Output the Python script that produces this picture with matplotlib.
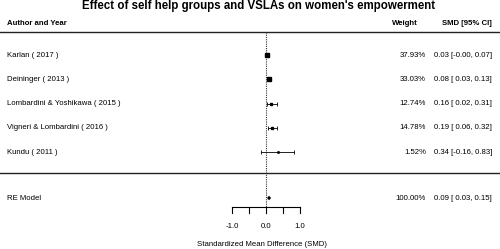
import matplotlib.pyplot as plt
from matplotlib.transforms import blended_transform_factory
import numpy as np

plt.rcParams['font.family'] = ['Liberation Sans', 'DejaVu Sans']

# data
studies = ['Karlan ( 2017 )', 'Deininger ( 2013 )', 'Lombardini & Yoshikawa ( 2015 )',
           'Vigneri & Lombardini ( 2016 )', 'Kundu ( 2011 )']
smd = [0.03, 0.08, 0.16, 0.19, 0.34]
ci_low = [-0.00, 0.03, 0.02, 0.06, -0.16]
ci_high = [0.07, 0.13, 0.31, 0.32, 0.83]
weights = [37.93, 33.03, 12.74, 14.78, 1.52]
re_est, re_low, re_high = 0.09, 0.03, 0.15
ticks = [-1.0, -0.5, 0.0, 0.5, 1.0]
tick_labels = ['-1.0', '', '0.0', '', '1.0']

W, H = 500, 249
fig = plt.figure(figsize=(W / 100, H / 100), dpi=100)
ax = fig.add_axes([0, 0, 1, 1])
ax.axis('off')

# x in SMD units: zero sits at pixel 266, one unit = 34 px; y in pixels from top
x0, unit = 266, 34.0
ax.set_xlim(-x0 / unit, (W - x0) / unit)
ax.set_ylim(H, 0)
tr = blended_transform_factory(ax.transAxes, ax.transData)

row_y = 55 + 24.3 * np.arange(len(studies))
re_y = 198
axis_y = 207

fs = 5.6
ax.text(0.518, 6, "Effect of self help groups and VSLAs on women's empowerment",
        transform=tr, ha='center', va='center', fontsize=8.3, fontweight='bold')
ax.text(7 / W, 23, 'Author and Year', transform=tr, ha='left', va='center',
        fontsize=fs, fontweight='bold')
ax.text(418 / W, 23, 'Weight', transform=tr, ha='right', va='center',
        fontsize=fs, fontweight='bold')
ax.text(492 / W, 23, 'SMD [95% CI]', transform=tr, ha='right', va='center',
        fontsize=fs, fontweight='bold')

ax.axhline(32, color='#222222', lw=1.0)
ax.axhline(173, color='#222222', lw=1.0)
ax.plot([0, 0], [32, axis_y], color='#333333', lw=0.8, ls=(0, (1, 1)))


def fmt(v):
    s = f'{v:.2f}'
    return s if s.startswith('-') else ' ' + s


wcol, scol = 426 / W, 492 / W
wmax = max(weights)
for i, name in enumerate(studies):
    y = row_y[i]
    ax.text(7 / W, y, name, transform=tr, ha='left', va='center', fontsize=fs)
    ax.errorbar(smd[i], y, xerr=[[smd[i] - ci_low[i]], [ci_high[i] - smd[i]]],
                fmt='none', ecolor='black', elinewidth=0.6, capsize=1.3, capthick=0.6)
    ms = 0.72 * (0.6 + 3.8 * np.sqrt(weights[i] / wmax))
    ax.plot(smd[i], y, marker='s', color='black', ms=ms, ls='none')
    ax.text(wcol, y, f'{weights[i]:.2f}%', transform=tr, ha='right', va='center', fontsize=fs)
    ax.text(scol, y, f'{smd[i]:.2f} [{fmt(ci_low[i])}, {ci_high[i]:.2f}]'.replace('[ -', '[-'),
            transform=tr, ha='right', va='center', fontsize=fs)

# summary diamond
ax.text(7 / W, re_y, 'RE Model', transform=tr, ha='left', va='center', fontsize=fs)
ax.fill([re_low, re_est, re_high, re_est], [re_y, re_y - 2.3, re_y, re_y + 2.3],
        color='black', lw=0)
ax.text(wcol, re_y, '100.00%', transform=tr, ha='right', va='center', fontsize=fs)
ax.text(scol, re_y, f'{re_est:.2f} [{fmt(re_low)}, {re_high:.2f}]',
        transform=tr, ha='right', va='center', fontsize=fs)

# hand-drawn x axis
ax.plot([ticks[0], ticks[-1]], [axis_y, axis_y], color='black', lw=0.8)
for t, lab in zip(ticks, tick_labels):
    ax.plot([t, t], [axis_y, axis_y + 6], color='black', lw=0.8)
    if lab:
        ax.text(t, 226, lab, ha='center', va='center', fontsize=fs)
ax.text(0.524, 244, 'Standardized Mean Difference (SMD)', transform=tr,
        ha='center', va='center', fontsize=fs)

fig.savefig('out.png', dpi=100)
